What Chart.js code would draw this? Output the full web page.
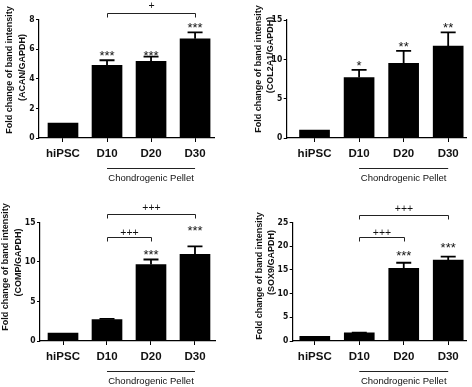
<!DOCTYPE html>
<html><head><meta charset="utf-8">
<script src="https://cdn.jsdelivr.net/npm/chart.js@4/dist/chart.umd.min.js"></script>
<style>
html,body{margin:0;padding:0;background:#fff;overflow:hidden;width:472px;height:387px;}
canvas{position:absolute;}
</style></head><body>
<canvas id="c1" width="236" height="184" style="left:0;top:0"></canvas>
<canvas id="c2" width="236" height="184" style="left:236px;top:0"></canvas>
<canvas id="c3" width="236" height="184" style="left:0;top:203px"></canvas>
<canvas id="c4" width="236" height="184" style="left:236px;top:203px"></canvas>
<script>
// ---- data ----
const categories = ['hiPSC', 'D10', 'D20', 'D30'];
const groupLabel = 'Chondrogenic Pellet';
const titleLine1 = 'Fold change of band intensity';

const acanValues = [1, 4.9, 5.18, 6.7];
const acanErrors = [0, 0.35, 0.31, 0.43];
const acanStars = ['', '***', '***', '***'];
const acanBrackets = [[1, 3, '+']];
const acanTicks = [0, 2, 4, 6, 8];

const col2a1Values = [1, 7.69, 9.5, 11.7];
const col2a1Errors = [0, 0.97, 1.57, 1.73];
const col2a1Stars = ['', '*', '**', '**'];
const col2a1Brackets = [];
const col2a1Ticks = [0, 5, 10, 15];

const compValues = [1, 2.72, 9.67, 10.94];
const compErrors = [0, 0.07, 0.63, 1.02];
const compStars = ['', '', '***', '***'];
const compBrackets = [[1, 3, '+++'], [1, 2, '+++']];
const compTicks = [0, 5, 10, 15];

const sox9Values = [1, 1.72, 15.28, 17.04];
const sox9Errors = [0, 0.05, 1.2, 0.71];
const sox9Stars = ['', '', '***', '***'];
const sox9Brackets = [[1, 3, '+++'], [1, 2, '+++']];
const sox9Ticks = [0, 5, 10, 15, 20, 25];

const FONT = '"Liberation Sans", Arial, Helvetica, sans-serif';
const NARROW = '"Liberation Sans Narrow", "Arial Narrow", "DejaVu Sans Condensed", "Liberation Sans", sans-serif';
const INK = '#111';

function annotPlugin(p) {
  return {
    id: 'annot',
    afterDatasetsDraw(chart) {
      const ctx = chart.ctx, xs = chart.scales.x, ys = chart.scales.y, ca = chart.chartArea;
      ctx.save();
      // error bars
      ctx.strokeStyle = '#000';
      ctx.lineWidth = 1.8;
      p.values.forEach((v, i) => {
        const e = p.errors[i];
        if (!e) return;
        const x = xs.getPixelForValue(i);
        const y0 = ys.getPixelForValue(v);
        const y1 = ys.getPixelForValue(v + e);
        ctx.beginPath();
        ctx.moveTo(x, y0); ctx.lineTo(x, y1);
        ctx.moveTo(x - 7.5, y1); ctx.lineTo(x + 7.5, y1);
        ctx.stroke();
      });
      // stars
      ctx.fillStyle = INK;
      ctx.font = '13px ' + FONT;
      ctx.textAlign = 'center';
      ctx.textBaseline = 'alphabetic';
      p.stars.forEach((s, i) => {
        if (!s) return;
        const x = xs.getPixelForValue(i);
        const yTop = ys.getPixelForValue(p.values[i] + p.errors[i]);
        const cy = yTop - p.starGap[i];
        ctx.fillText(s, x, cy + 7.4);
      });
      // brackets
      ctx.lineWidth = 1;
      ctx.strokeStyle = '#222';
      ctx.font = '10.5px ' + FONT;
      p.brackets.forEach((b, k) => {
        const xa = Math.round(xs.getPixelForValue(b[0])) + 0.5;
        const xc = Math.round(xs.getPixelForValue(b[1])) + 0.5;
        const y = Math.round(ca.top + p.bracketY[k]) + 0.5;
        ctx.beginPath();
        ctx.moveTo(xa, y + 4); ctx.lineTo(xa, y); ctx.lineTo(xc, y); ctx.lineTo(xc, y + 4);
        ctx.stroke();
        ctx.fillText(b[2], (xa + xc) / 2, y - p.bracketLabelGap[k] + 3.6);
      });
      // group line + label
      const g0 = xs.getPixelForValue(1), g1 = xs.getPixelForValue(3);
      const gy = Math.round(ca.bottom + 30) + 0.5;
      ctx.beginPath();
      ctx.moveTo(g0, gy); ctx.lineTo(g1, gy);
      ctx.stroke();
      ctx.font = '9.5px ' + FONT;
      ctx.textBaseline = 'middle';
      ctx.fillText(groupLabel, (g0 + g1) / 2, ca.bottom + 40);
      // y title
      ctx.font = 'bold 9px ' + FONT;
      [titleLine1, p.title2].forEach((t, j) => {
        ctx.save();
        ctx.translate(p.titleX[j], p.titleY[j]);
        ctx.rotate(-Math.PI / 2);
        ctx.fillText(t, 0, 0);
        ctx.restore();
      });
      ctx.restore();
    }
  };
}

function makeChart(id, p) {
  return new Chart(document.getElementById(id), {
    type: 'bar',
    data: {
      datasets: [{
        data: p.values.map((v, i) => ({ x: i, y: v })),
        backgroundColor: '#000',
        borderWidth: 0,
        barThickness: 30
      }]
    },
    options: {
      responsive: false,
      animation: false,
      devicePixelRatio: 1,
      layout: { padding: { left: 0, right: p.padRight, top: p.padTop, bottom: 0 } },
      plugins: { legend: { display: false }, tooltip: { enabled: false } },
      scales: {
        x: {
          type: 'linear', min: p.xMin, max: p.xMax, bounds: 'data', offset: false,
          afterBuildTicks: s => { s.ticks = categories.map((c, i) => ({ value: i })); },
          afterFit: s => { s.height = 46; },
          ticks: { callback: v => categories[v], font: { family: FONT, size: 11.5, weight: 'bold' }, color: INK, padding: 5, maxRotation: 0, autoSkip: false },
          grid: { display: true, offset: false, drawOnChartArea: false, drawTicks: true, tickLength: 4, color: '#000' },
          border: { display: true, color: '#000', width: 1.2 }
        },
        y: {
          min: 0, max: p.yTicks[p.yTicks.length - 1],
          afterBuildTicks: s => { s.ticks = p.yTicks.map(v => ({ value: v })); },
          afterFit: s => { s.width = p.left; },
          ticks: { font: { family: NARROW, size: 8.5, weight: 'bold' }, color: INK, padding: 1.5 },
          grid: { display: true, drawOnChartArea: false, drawTicks: true, tickLength: 3, color: '#000' },
          border: { display: true, color: '#000', width: 1.2 }
        }
      }
    },
    plugins: [annotPlugin(p)]
  });
}

makeChart('c1', {
  values: acanValues, errors: acanErrors, stars: acanStars, brackets: acanBrackets, yTicks: acanTicks,
  title2: '(ACAN/GAPDH)',
  left: 39, padRight: 22, padTop: 19.5, xMin: -0.545, xMax: 3.43,
  titleX: [10, 23], titleY: [70, 67.5], starGap: [0, 7.3, 3.7, 7.5], bracketY: [-6.8], bracketLabelGap: [8]
});
makeChart('c2', {
  values: col2a1Values, errors: col2a1Errors, stars: col2a1Stars, brackets: col2a1Brackets, yTicks: col2a1Ticks,
  title2: '(COL2A1/GAPDH)',
  left: 50.7, padRight: 6, padTop: 20, xMin: -0.625, xMax: 3.40,
  titleX: [23, 35], titleY: [69, 55], starGap: [0, 7, 7.6, 7.3], bracketY: [], bracketLabelGap: []
});
makeChart('c3', {
  values: compValues, errors: compErrors, stars: compStars, brackets: compBrackets, yTicks: compTicks,
  title2: '(COMP/GAPDH)',
  left: 40, padRight: 21, padTop: 19.3, xMin: -0.523, xMax: 3.455,
  titleX: [6, 19], titleY: [64, 59.5], starGap: [0, 0, 7.7, 19], bracketY: [-8, 14.4], bracketLabelGap: [7, 5]
});
makeChart('c4', {
  values: sox9Values, errors: sox9Errors, stars: sox9Stars, brackets: sox9Brackets, yTicks: sox9Ticks,
  title2: '(SOX9/GAPDH)',
  left: 56.7, padRight: 6, padTop: 19.3, xMin: -0.497, xMax: 3.40,
  titleX: [24, 36], titleY: [73, 59.5], starGap: [0, 0, 10.6, 12], bracketY: [-7.3, 15], bracketLabelGap: [7, 5]
});
</script>
</body></html>
